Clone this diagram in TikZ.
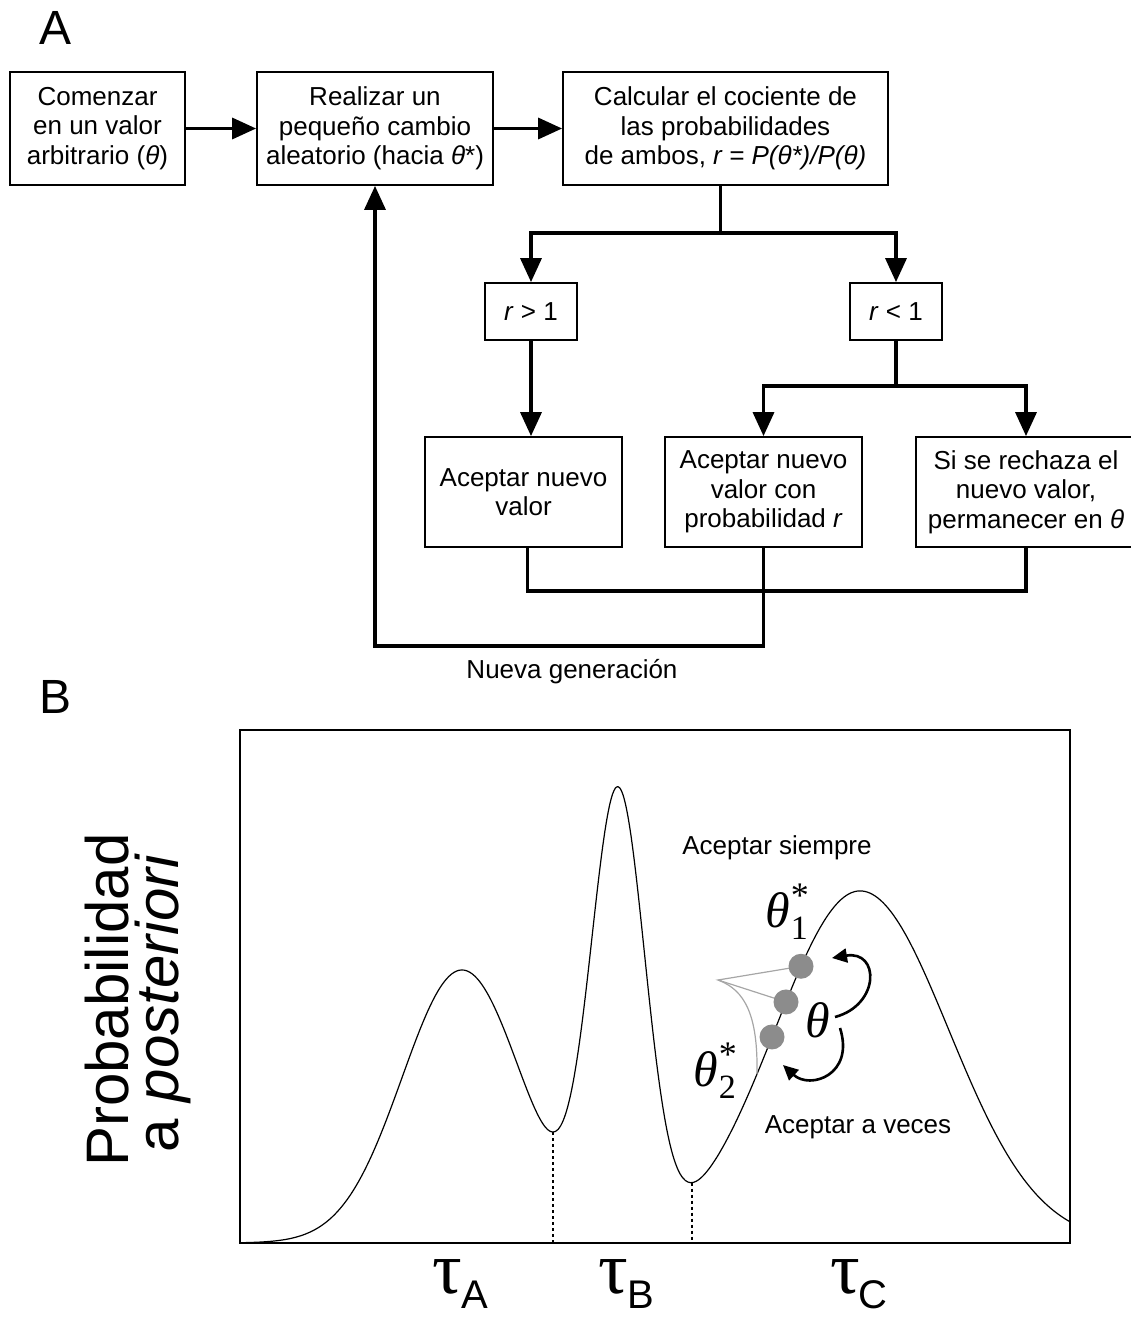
\documentclass[tikz,border=0pt]{standalone}
\usepackage{fontspec}
\setmainfont{Liberation Sans}
\newfontfamily\greekserif{Liberation Serif}
\usetikzlibrary{arrows.meta}
\newcommand\flowfont{\fontsize{26}{29.5}\selectfont}
\newcommand\taulabel[1]{{\greekserif\fontsize{74}{74}\selectfont τ}\kern-1pt\raisebox{-15pt}{\fontsize{40}{40}\selectfont #1}}
\newcommand\thetalabel[1]{{\greekserif\itshape\fontsize{50}{50}\selectfont θ}\kern1pt\makebox[0pt][l]{\raisebox{-12pt}{\greekserif\fontsize{34}{34}\selectfont #1}}\raisebox{20pt}{\greekserif\fontsize{36}{36}\selectfont *}}
\begin{document}
\begin{tikzpicture}[x=1pt,y=-1pt,
  box/.style={draw,line width=1.8pt,inner sep=0pt,align=center,font=\flowfont},
  link/.style={line width=3.4pt},
  arr/.style={link,-{Triangle[length=24pt,width=21pt]}},
  carr/.style={line width=2.6pt,-{Triangle[length=15pt,width=14pt]}},
  dot/.style={circle,fill=black!45,inner sep=0pt,minimum size=25pt},
  lbl/.style={font=\fontsize{26}{29.5}\selectfont},
  declare function={
    g(\a,\m,\v)=exp(-min((\a-\m)*(\a-\m)/\v,12));
    hh(\q)=273*g(\q/100,4.62,0.7176)+441*g(\q/100,6.18,0.1458)
          +352*g(\q/100,8.6,ifthenelse(\q<860,1.445,1.570));}]
\useasboundingbox (0,0) rectangle (1130,1317);

% ---------------- panel A: flow chart ----------------
\node[font=\fontsize{48}{48}\selectfont] (labA) at (56,28) {A};

\node[box,minimum width=175pt,minimum height=113pt] (start) at (97.5,128.5)
  {Comenzar\\en un valor\\arbitrario (\textit{θ})};
\node[box,minimum width=236pt,minimum height=113pt] (change) at (375,128.5)
  {Realizar un\\pequeño cambio\\aleatorio (hacia \textit{θ}*)};
\node[box,minimum width=325pt,minimum height=113pt] (ratio) at (725.5,128.5)
  {Calcular el cociente de\\las probabilidades\\de ambos, \textit{r = P(θ*)/P(θ)}};
\node[box,minimum width=92pt,minimum height=57pt] (gt) at (531,311.5) {\textit{r} > 1};
\node[box,minimum width=92pt,minimum height=57pt] (lt) at (896,311.5) {\textit{r} < 1};
\node[box,minimum width=197pt,minimum height=110pt] (acc) at (523.5,492)
  {Aceptar nuevo\\valor};
\node[box,minimum width=197pt,minimum height=110pt] (accr) at (763.5,492)
  {Aceptar nuevo\\valor con\\probabilidad \textit{r}};
\node[box,minimum width=220pt,minimum height=110pt] (rej) at (1026,492)
  {Si se rechaza el\\nuevo valor,\\permanecer en \textit{θ}};

\draw[arr] (start) -- (change);
\draw[arr] (change) -- (ratio);

\path (ratio.south) ++(-5,47) coordinate (fork1);
\draw[link] (ratio.south -| fork1) -- (fork1);
\draw[arr] (fork1) -| (gt.north);
\draw[arr] (fork1) -| (lt.north);

\draw[arr] (gt.south) -- (gt.south |- acc.north);

\path (lt.south) ++(0,45) coordinate (fork2);
\draw[link] (lt.south) -- (fork2);
\draw[arr] (fork2) -| (accr.north);
\draw[arr] (fork2) -| (rej.north);

\path (acc.south) ++(4,43) coordinate (merge);
\draw[link] (acc.south -| merge) -- (merge) -| (rej.south);
\path (accr.south) ++(0,98) coordinate (loop);
\draw[arr] (accr.south) -- (loop) -| (change.south);

\node[lbl] (newgen) at (572,672) {Nueva generación};

% ---------------- panel B: posterior landscape ----------------
\node[font=\fontsize{48}{48}\selectfont] (labB) at (56,697) {B};

\draw[line width=1.3pt] (240,730) rectangle (1070,1243);
\draw[line width=1.2pt] plot[domain=241:1070,samples=320,smooth] (\x,{1243-hh(\x)});

\draw[dashed,line width=1.3pt] (553,{1243-hh(553)}) -- (553,1243);
\draw[dashed,line width=1.3pt] (692,{1243-hh(692)}) -- (692,1243);

\node[rotate=90,font=\fontsize{60}{60}\selectfont] (ylab1) at (107,1000) {Probabilidad};
\node[rotate=90,font=\fontsize{60}{60}\selectfont] (ylab2) at (163,1003) {a \textit{posteriori}};

\node (tA) at (460,1284) {\taulabel{A}};
\node (tB) at (626,1284) {\taulabel{B}};
\node (tC) at (859,1284) {\taulabel{C}};

\node[lbl] (always) at (777,848) {Aceptar siempre};
\node[lbl] (sometimes) at (858,1127) {Aceptar a veces};

% proposal around the current state
\coordinate (p1) at (801,{1243-hh(801)});
\coordinate (p0) at (786,{1243-hh(786)});
\coordinate (p2) at (772,{1243-hh(772)});
\coordinate (apex) at (718,980);
\draw[black!35,line width=1.2pt] (p1) -- (apex) -- (p0);
\draw[black!35,line width=1.2pt] (apex) .. controls (745,990) and (758,1015) .. (757,{1243-hh(757)});
\node[dot] (d1) at (p1) {};
\node[dot] (d0) at (p0) {};
\node[dot] (d2) at (p2) {};

\node (th1) at (787,912) {\thetalabel{1}};
\node[font=\greekserif\itshape\fontsize{50}{50}\selectfont] (th) at (818,1020) {θ};
\node (th2) at (715,1071) {\thetalabel{2}};

\coordinate (up0) at (835,1017);
\coordinate (up1) at (832,958);
\coordinate (dn0) at (840,1028);
\coordinate (dn1) at (783,1065);
\draw[carr] (up0) .. controls (880,1005) and (880,950) .. (up1);
\draw[carr] (dn0) .. controls (855,1075) and (810,1090) .. (dn1);
\end{tikzpicture}
\end{document}
